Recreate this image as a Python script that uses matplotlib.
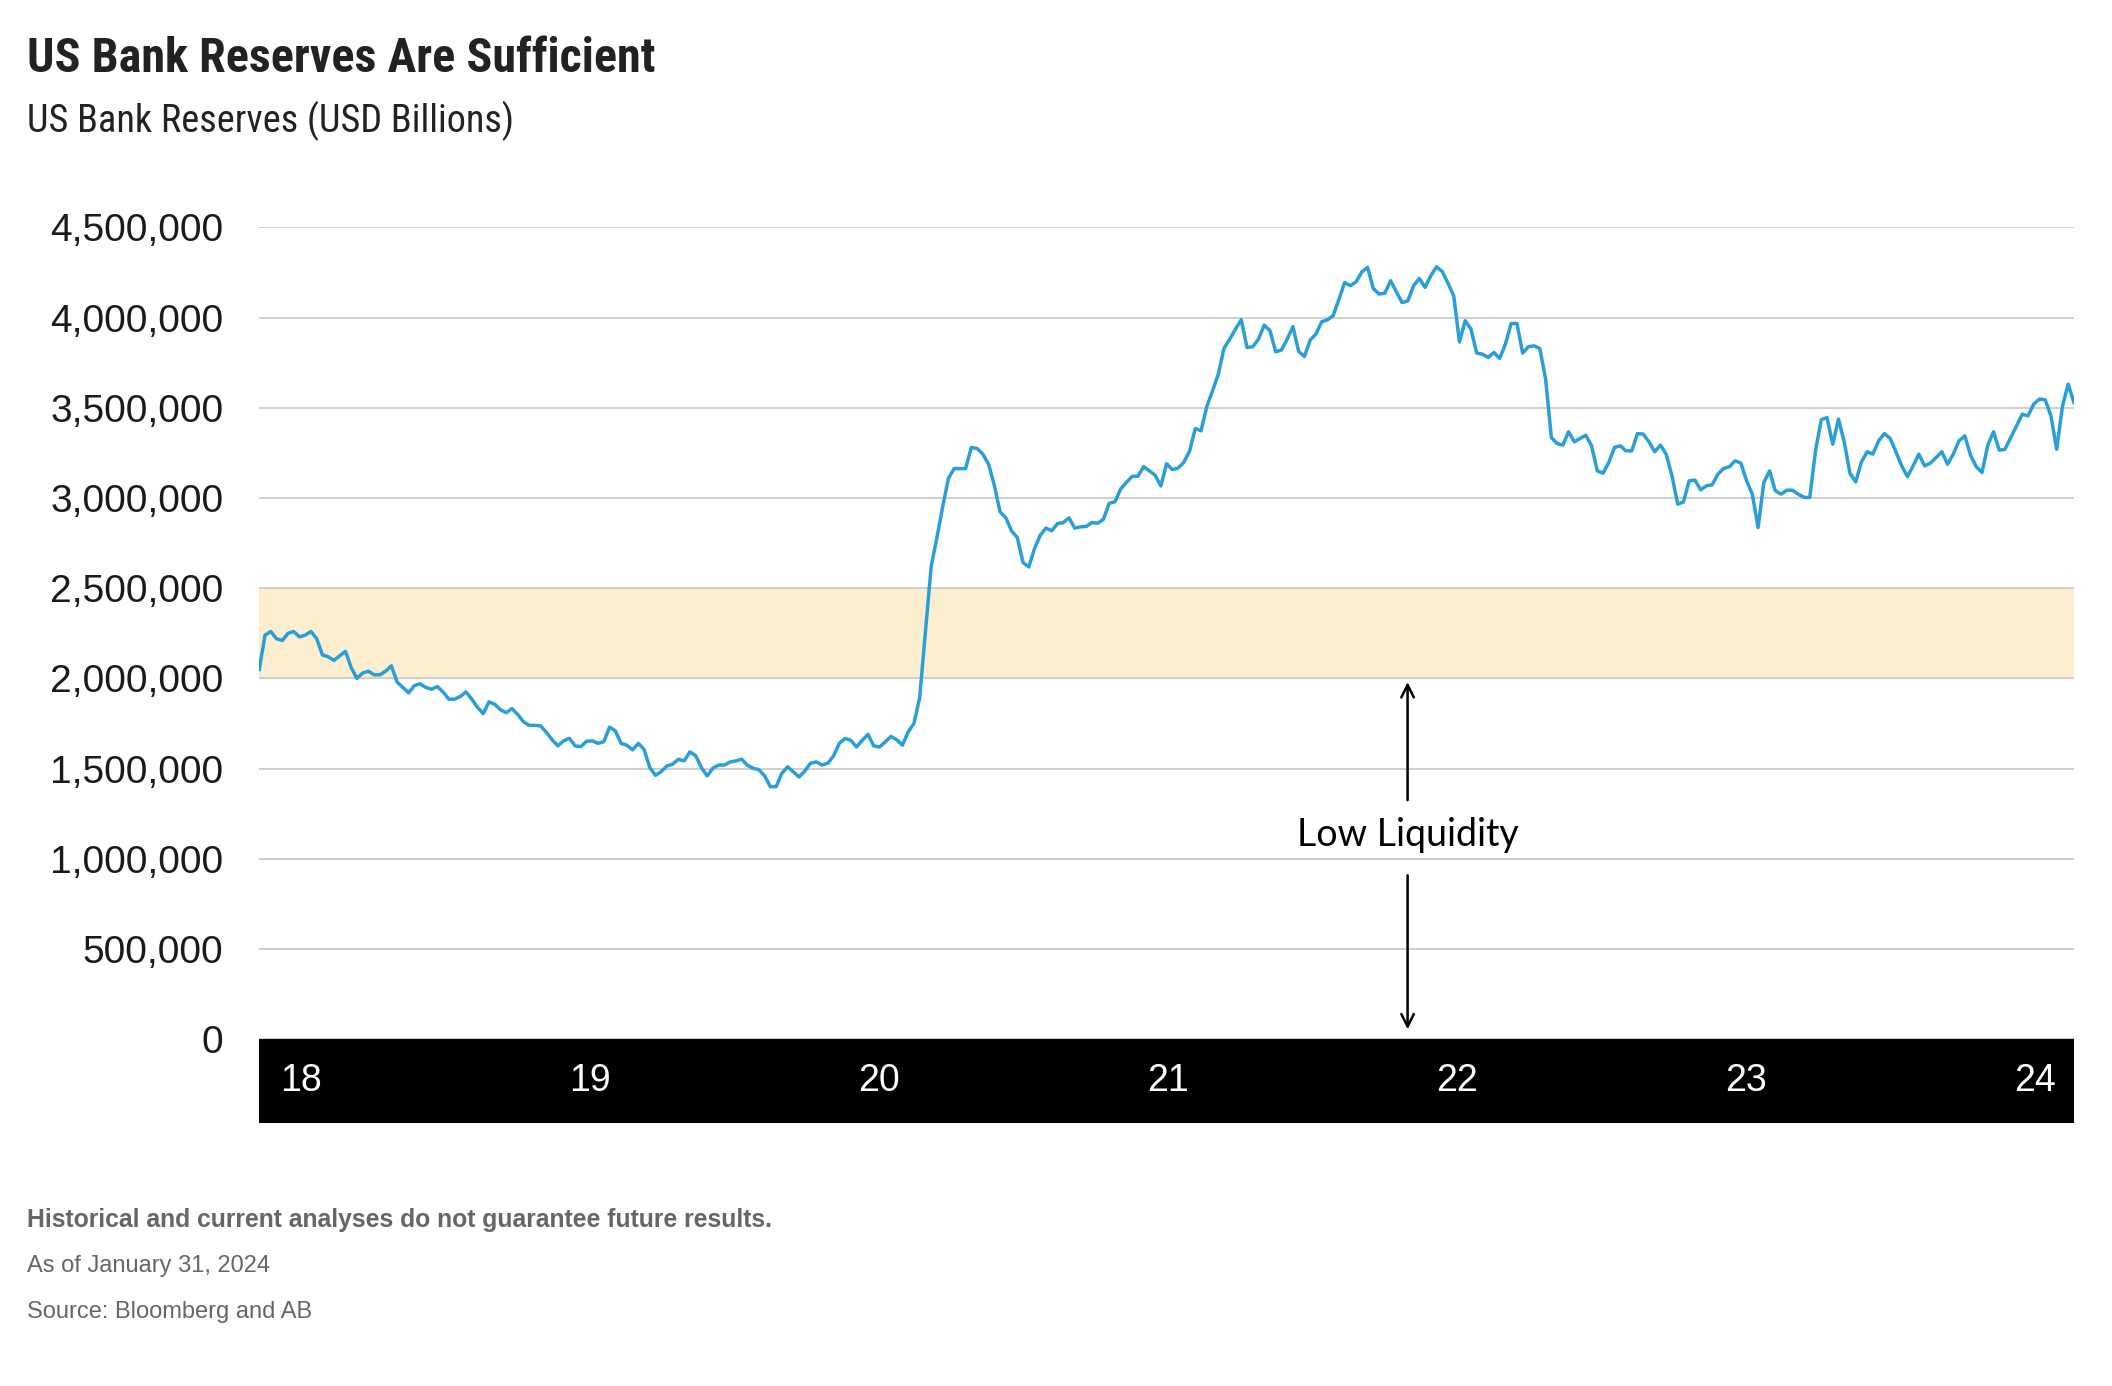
import matplotlib
matplotlib.use("Agg")
import matplotlib.pyplot as plt
import matplotlib.ticker as mticker
import matplotlib.transforms as mtransforms
import numpy as np
import pandas as pd

# reservas semanales (millones en la escala del eje)
reservas = [
    2.05, 2.24, 2.26, 2.22, 2.21, 2.25, 2.26, 2.23, 2.24, 2.26, 2.22, 2.13, 2.12, 2.10, 2.125, 2.15,
    2.06, 2.00, 2.03, 2.04, 2.02, 2.02, 2.04, 2.07, 1.98, 1.95, 1.92, 1.96, 1.97, 1.95, 1.94, 1.955,
    1.925, 1.885, 1.885, 1.90, 1.925, 1.885, 1.84, 1.805, 1.87, 1.857, 1.826, 1.81, 1.833, 1.80, 1.76,
    1.74, 1.74, 1.737, 1.70, 1.66, 1.626, 1.654, 1.668, 1.626, 1.622, 1.652, 1.654, 1.64, 1.65, 1.73,
    1.71, 1.64, 1.63, 1.604, 1.64, 1.607, 1.506, 1.463, 1.484, 1.515, 1.525, 1.552, 1.543, 1.593,
    1.571, 1.506,
    1.46, 1.503, 1.52, 1.52, 1.537, 1.543, 1.552, 1.519, 1.502, 1.494, 1.46, 1.40, 1.40, 1.474, 1.51,
    1.482, 1.454, 1.487, 1.53, 1.537, 1.52, 1.53, 1.57, 1.64, 1.667, 1.657, 1.62, 1.657, 1.69, 1.626,
    1.62, 1.648, 1.678, 1.66, 1.63, 1.704, 1.75, 1.894, 2.254, 2.62, 2.78, 2.95, 3.108, 3.163, 3.163,
    3.163, 3.28, 3.274, 3.243, 3.187, 3.07, 2.923, 2.89, 2.818, 2.78, 2.642, 2.618, 2.72, 2.794, 2.833,
    2.818, 2.858, 2.864, 2.89, 2.833, 2.84, 2.842, 2.864, 2.86, 2.882, 2.97, 2.979, 3.05, 3.086, 3.12,
    3.12, 3.174, 3.15, 3.126, 3.067, 3.19, 3.157, 3.166, 3.197, 3.26, 3.385, 3.372,
    3.507, 3.594, 3.686, 3.83, 3.88, 3.936, 3.987, 3.834, 3.838, 3.88, 3.958, 3.927, 3.81, 3.82, 3.88,
    3.95, 3.812, 3.784, 3.875, 3.908, 3.976, 3.987, 4.01, 4.10, 4.194, 4.176, 4.198, 4.253, 4.278,
    4.161, 4.13, 4.135, 4.204, 4.143, 4.083, 4.092, 4.176, 4.216, 4.167, 4.231, 4.281, 4.255, 4.19,
    4.12, 3.865, 3.982, 3.936, 3.803, 3.797, 3.779, 3.806, 3.773, 3.853, 3.967, 3.967, 3.803, 3.838,
    3.843, 3.828, 3.659, 3.335, 3.302, 3.293, 3.367, 3.311, 3.33, 3.348, 3.289, 3.15,
    3.137, 3.197, 3.28, 3.289, 3.261, 3.261, 3.357, 3.354, 3.311, 3.256, 3.293, 3.243, 3.123, 2.966,
    2.978, 3.095, 3.099, 3.045, 3.067, 3.073, 3.132, 3.163, 3.173, 3.206, 3.193, 3.095, 3.021, 2.836,
    3.086, 3.150, 3.04, 3.021, 3.043, 3.043, 3.021, 3.003, 3.003, 3.261, 3.433, 3.446, 3.298, 3.437,
    3.311, 3.137, 3.089, 3.20, 3.256, 3.243, 3.317, 3.357, 3.33, 3.256, 3.178, 3.119, 3.178, 3.243,
    3.178, 3.193, 3.224, 3.256, 3.187, 3.243, 3.317, 3.344, 3.237, 3.173, 3.141, 3.293, 3.367, 3.265,
    3.27, 3.335, 3.40, 3.464, 3.455, 3.52, 3.548, 3.544, 3.455, 3.27, 3.507, 3.631, 3.529,
]
etiquetas_anio = ["18", "19", "20", "21", "22", "23", "24"]
banda_baja = 2.0   # zona sombreada (millones)
banda_alta = 2.5

valores = np.array(reservas) * 1e6
fechas = pd.date_range(end="2024-01-31", periods=len(valores), freq="7D")

fig = plt.figure(figsize=(21.12, 13.86), dpi=100)
ax = fig.add_axes([0.12277, 0.25014, 0.8592, 0.58586])

ax.axhspan(banda_baja * 1e6, banda_alta * 1e6, color="#FDEECF", zorder=0)
ax.plot(fechas, valores, color="#2A9ED8", lw=2.5, zorder=3)

ax.set_xlim(fechas[0], fechas[-1])
ax.set_ylim(0, 4.5e6)
ax.set_yticks(np.arange(0, 4.5e6 + 1, 5e5))
ax.yaxis.set_major_formatter(mticker.FuncFormatter(lambda v, p: f"{v:,.0f}"))
ax.grid(axis="y", color="#CFCFCF", lw=1.4, zorder=1)
ax.set_axisbelow(True)
ax.set_xticks([])
for s in ax.spines.values():
    s.set_visible(False)
ax.tick_params(axis="y", length=0, pad=26, labelsize=28, labelcolor="#1a1a1a")
for lab in ax.get_yticklabels():
    lab.set_family(["Liberation Sans", "DejaVu Sans"])
    lab.set_y(lab.get_position()[1])
    lab.set_verticalalignment("center_baseline")

# flechas "Low Liquidity"
trans = mtransforms.blended_transform_factory(ax.transAxes, ax.transData)
xa = 0.6328
ax.annotate("", xy=(xa, 1.995e6), xytext=(xa, 1.31e6), xycoords=trans, textcoords=trans,
            arrowprops=dict(arrowstyle="->,head_length=0.9,head_width=0.45", color="black", lw=1.8))
ax.annotate("", xy=(xa, 0.04e6), xytext=(xa, 0.925e6), xycoords=trans, textcoords=trans,
            arrowprops=dict(arrowstyle="->,head_length=0.9,head_width=0.45", color="black", lw=1.8))
ax.text(xa, 1.13e6, "Low Liquidity", transform=trans, ha="center", va="center",
        fontsize=27, family=["Lato", "DejaVu Sans"], color="black")

# banda negra con los anios
axb = fig.add_axes([0.12277, 0.18954, 0.8592, 0.0606])
axb.set_facecolor("black")
axb.set_xticks([])
axb.set_yticks([])
for s in axb.spines.values():
    s.set_visible(False)
for xp, lab in zip(np.linspace(0.023, 0.9785, len(etiquetas_anio)), etiquetas_anio):
    axb.text(xp, 0.5, lab, transform=axb.transAxes, ha="center", va="center",
             color="white", fontsize=27, family=["Liberation Sans", "DejaVu Sans"])

cond = ["Roboto Condensed", "Liberation Sans Narrow", "DejaVu Sans"]
fig.text(0.0128, 0.948, "US Bank Reserves Are Sufficient", fontsize=34.7, fontweight="bold",
         family=cond, color="#222222", ha="left", va="baseline")
fig.text(0.0128, 0.913, "US Bank Reserves (USD Billions)", fontsize=27.5, family=cond,
         color="#222222", ha="left", va="center")

pie = ["Liberation Sans", "DejaVu Sans"]
fig.text(0.0128, 0.120, "Historical and current analyses do not guarantee future results.",
         fontsize=17.8, fontweight="bold", family=pie, color="#666666", ha="left", va="center")
fig.text(0.0128, 0.0867, "As of January 31, 2024", fontsize=17, family=pie, color="#666666",
         ha="left", va="center")
fig.text(0.0128, 0.0535, "Source: Bloomberg and AB", fontsize=17, family=pie, color="#666666",
         ha="left", va="center")

fig.savefig("out.png", dpi=100, facecolor="white")
